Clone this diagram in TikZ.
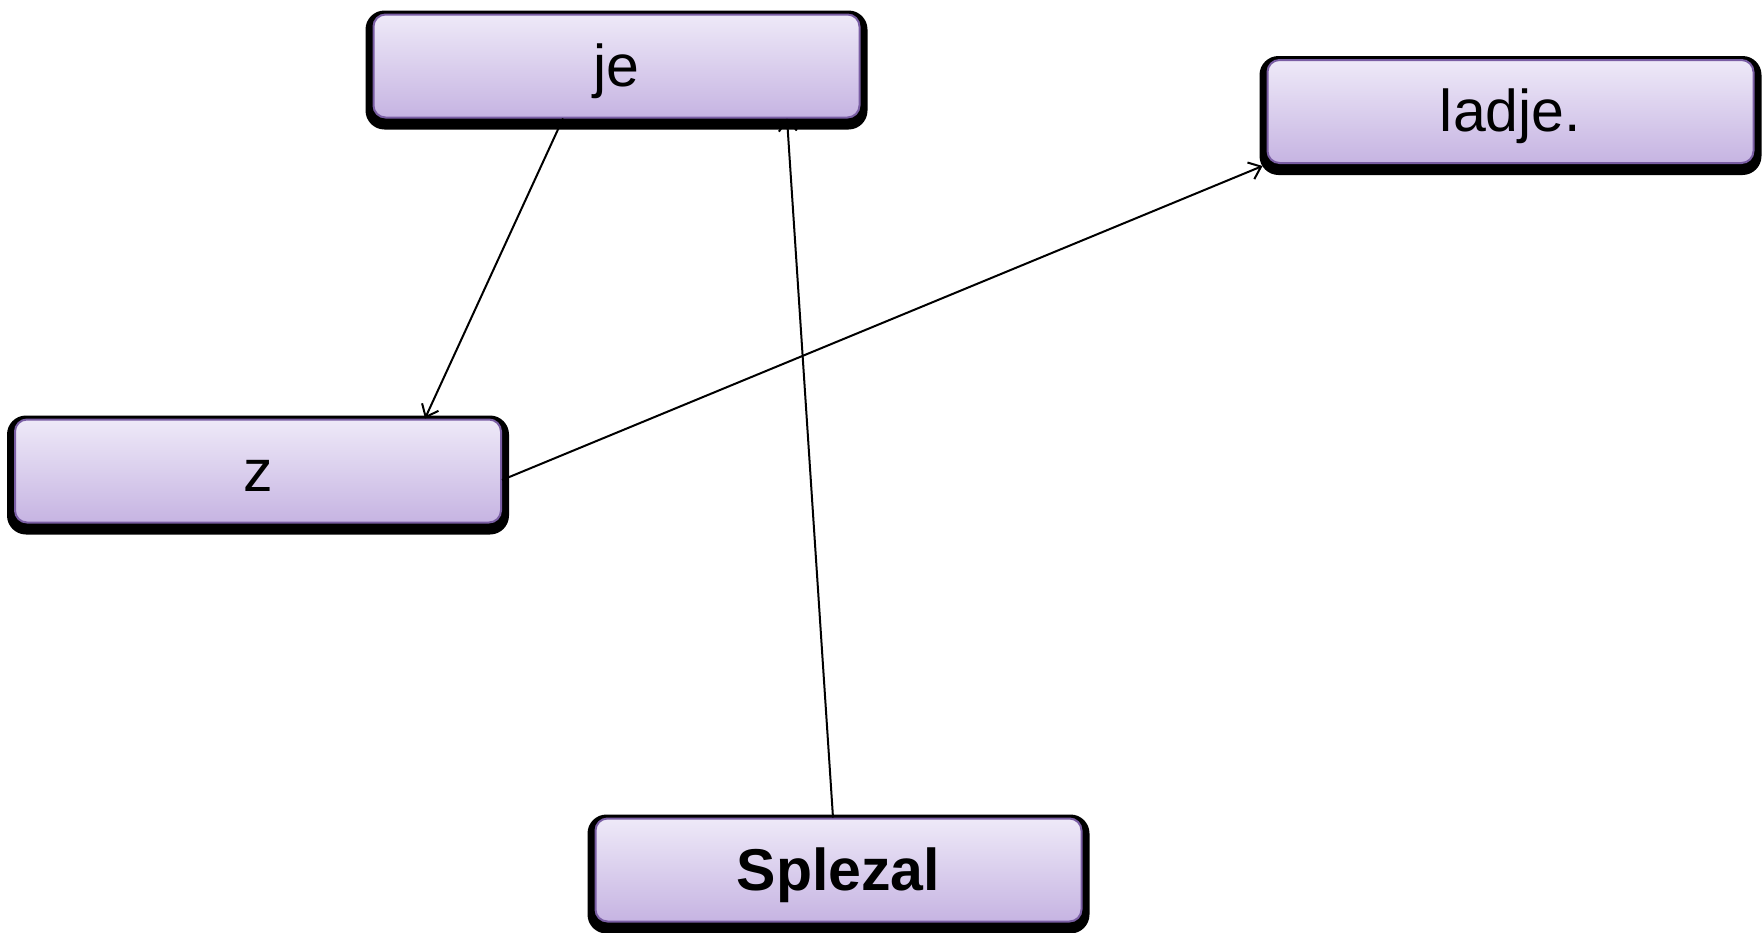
\documentclass[tikz,border=0pt]{standalone}
\usepackage{fontspec}
\setmainfont{Liberation Sans}
\usetikzlibrary{arrows.meta,backgrounds}
\definecolor{boxtop}{HTML}{EEE9F8}
\definecolor{boxbot}{HTML}{C6B4E2}
\definecolor{boxline}{HTML}{7A5EA4}
\begin{document}
\begin{tikzpicture}[x=1pt,y=-1pt,
  wbox/.style={rectangle, rounded corners=12pt, draw=boxline, line width=2pt,
    top color=boxtop, bottom color=boxbot, minimum width=486pt, minimum height=103pt,
    inner sep=0pt, text height=46pt, text depth=6pt, font=\fontsize{59}{60}\selectfont},
  link/.style={line width=2pt, -{Straight Barb[length=11pt,width=18pt,line width=2pt]}},
  shadowbox/.style={fill=black, rounded corners=19pt}]
\useasboundingbox (0,0) rectangle (1764,932);
\node[wbox] (je) at (616.5,66) {je};
\node[wbox] (ladje) at (1510.5,111.5) {ladje.};
\node[wbox] (z) at (258,471) {z};
\node[wbox, font=\fontsize{59}{60}\selectfont\bfseries] (splezal) at (838.5,870) {Splezal};
\begin{scope}[on background layer]
  \foreach \n in {je,ladje,z,splezal}
    \fill[shadowbox] ([shift={(-7,-3)}]\n.north west) rectangle ([shift={(7,11)}]\n.south east);
\end{scope}
\draw[link] ([xshift=-53.5pt]je.south) -- ([xshift=167pt]z.north);
\draw[link] ([xshift=-5.5pt]splezal.north) -- ([xshift=170.5pt]je.south);
\draw[link] ([yshift=-9pt]z.east) -- ([shift={(-4,2)}]ladje.south west);
\end{tikzpicture}
\end{document}
